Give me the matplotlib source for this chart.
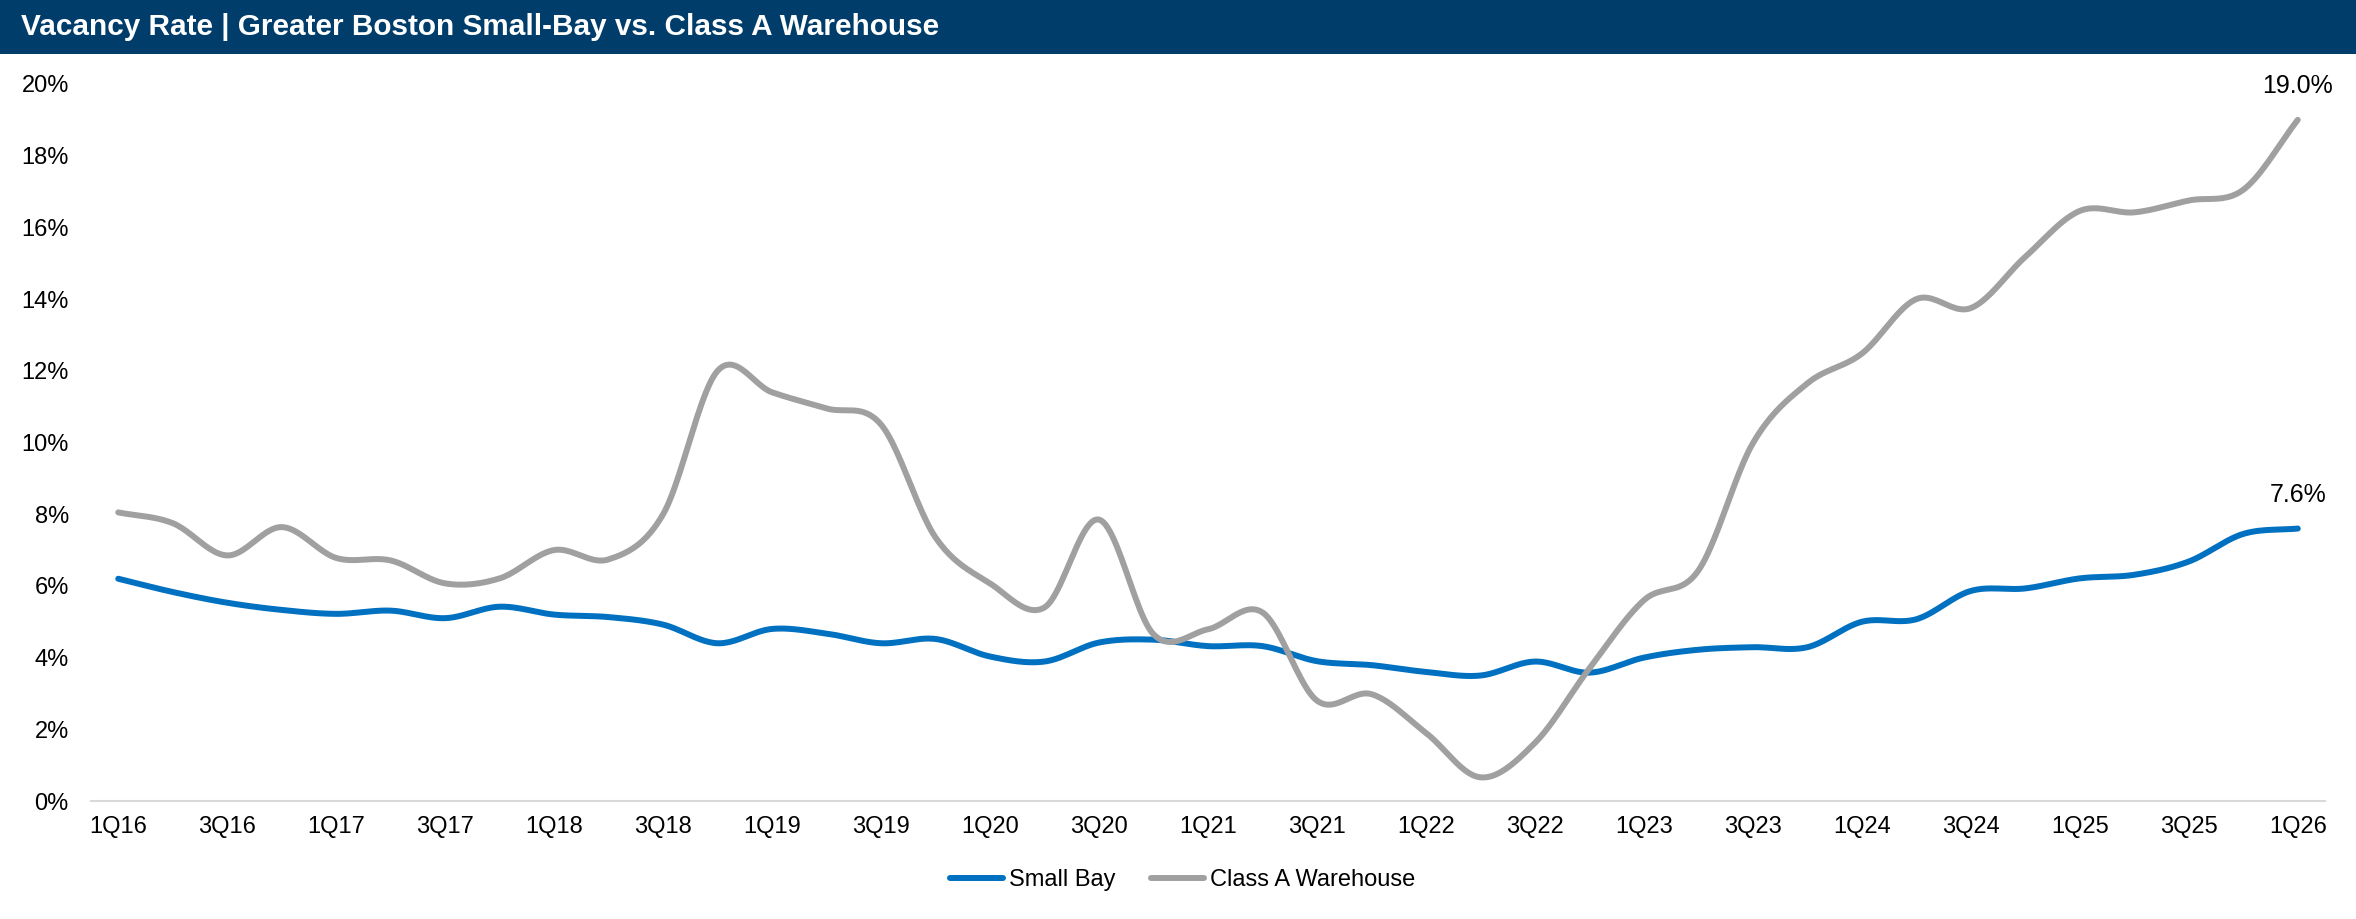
import matplotlib
matplotlib.use("Agg")
import matplotlib.pyplot as plt
import numpy as np
from matplotlib import font_manager
from matplotlib.patches import Rectangle

NAVY, BLUE, GRAY, AXIS = "#003d6b", "#0070c0", "#a0a0a0", "#d9d9d9"

quarters = [f"{q}Q{y:02d}" for y in range(16, 26) for q in (1, 2, 3, 4)] + ["1Q26"]
small_bay = [6.2, 5.83, 5.53, 5.33, 5.22, 5.31, 5.10, 5.42, 5.2, 5.13,
             4.92, 4.40, 4.80, 4.67, 4.40, 4.52, 4.03, 3.89, 4.42, 4.50,
             4.32, 4.32, 3.90, 3.79, 3.60, 3.50, 3.89, 3.58, 4.00, 4.22,
             4.29, 4.29, 5.00, 5.07, 5.86, 5.93, 6.21, 6.31, 6.68, 7.45, 7.6]
class_a = [8.05, 7.75, 6.85, 7.64, 6.78, 6.71, 6.07, 6.21, 7.0, 6.74,
           8.0, 12.0, 11.4, 10.95, 10.5, 7.35, 6.07, 5.4, 7.85, 4.65,
           4.79, 5.26, 2.8, 2.98, 1.9, 0.66, 1.62, 3.7, 5.6, 6.43,
           9.98, 11.65, 12.48, 14.0, 13.75, 15.18, 16.46, 16.42, 16.75, 17.05, 19.0]
yticks = [0, 2, 4, 6, 8, 10, 12, 14, 16, 18, 20]

installed = {f.name for f in font_manager.fontManager.ttflist}
BASE = "Liberation Sans" if "Liberation Sans" in installed else "DejaVu Sans"
NARROW = "Liberation Sans Narrow" if "Liberation Sans Narrow" in installed else BASE
plt.rcParams["font.family"] = BASE


def smooth(y, n=24):
    """Catmull-Rom curve through the points, like a spreadsheet 'smoothed line'."""
    y = np.asarray(y, float)
    p = np.concatenate([[2 * y[0] - y[1]], y, [2 * y[-1] - y[-2]]])
    xs, ys = [], []
    t = np.linspace(0, 1, n, endpoint=False)
    for i in range(len(y) - 1):
        p0, p1, p2, p3 = p[i:i + 4]
        ys.append(0.5 * (2 * p1 + (-p0 + p2) * t + (2 * p0 - 5 * p1 + 4 * p2 - p3) * t ** 2
                         + (-p0 + 3 * p1 - 3 * p2 + p3) * t ** 3))
        xs.append(i + t)
    xs.append([len(y) - 1])
    ys.append([y[-1]])
    return np.concatenate(xs), np.concatenate(ys)


fig = plt.figure(figsize=(23.56, 9.19), dpi=100)
fig.patches.append(Rectangle((0, 1 - 54 / 919), 1, 54 / 919, transform=fig.transFigure,
                             facecolor=NAVY, edgecolor="none", zorder=0))
fig.text(21 / 2356, 1 - 27 / 919, "Vacancy Rate | Greater Boston Small-Bay vs. Class A Warehouse",
         color="white", fontsize=21.4, fontweight="bold", family=NARROW, va="center", ha="left")

ax = fig.add_axes([91 / 2356, 1 - 801 / 919, (2325 - 91) / 2356, (801 - 84) / 919])
x = np.arange(len(quarters))
for vals, col, lab in [(small_bay, BLUE, "Small Bay"), (class_a, GRAY, "Class A Warehouse")]:
    sx, sy = smooth(vals)
    ax.plot(sx, sy, color=col, lw=4.3, label=lab, solid_capstyle="round", clip_on=False)
    ax.text(x[-1], vals[-1] + 0.6, f"{vals[-1]:.1f}%", ha="center", va="bottom", fontsize=18, color="#000000")

ax.set_xlim(-0.5, len(quarters) - 0.5)
ax.set_ylim(0, 20)
ax.set_xticks(x[::2])
ax.set_xticklabels(quarters[::2])
ax.set_yticks(yticks)
ax.set_yticklabels([f"{v}%" for v in yticks])
ax.tick_params(axis="x", length=0, pad=11, labelsize=17)
ax.tick_params(axis="y", length=0, pad=16, labelsize=17)
for s in ["top", "right", "left"]:
    ax.spines[s].set_visible(False)
ax.spines["bottom"].set_color(AXIS)
ax.spines["bottom"].set_linewidth(1.5)

fig.legend(loc="center", bbox_to_anchor=(0.502, 1 - 880 / 919), ncol=2, frameon=False,
           fontsize=17, handlelength=2.24, handletextpad=0.25, columnspacing=1.5)

fig.savefig("out.png", dpi=100, facecolor="white")
